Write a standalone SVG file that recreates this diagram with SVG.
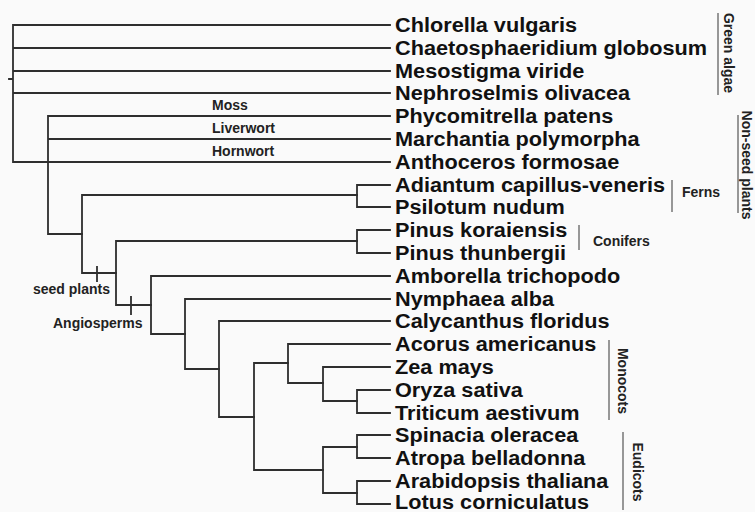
<svg xmlns="http://www.w3.org/2000/svg" width="755" height="512" viewBox="0 0 755 512">
<style>
.br{stroke:#2e2e2e;stroke-width:1.8;fill:none;stroke-linecap:square}
.bk{stroke:#555;stroke-width:1.2;fill:none}
.leaf{font-family:"Liberation Sans",Arial,sans-serif;font-weight:bold;font-size:20px;fill:#111}
.lab{font-family:"Liberation Sans",Arial,sans-serif;font-weight:bold;font-size:14px;fill:#222}
</style>
<rect width="755" height="512" fill="#fafafa"/>
<g id="connectors">
<path class="br" d="M13,25V162M9,79H13M13,25H390M13,48H390M13,71H390M13,93H390M13,162H390"/>
<path class="br" d="M48,116V234M48,116H390M48,139H390M48,234H82"/>
<path class="br" d="M82,195V273M82,195H357M82,273H116M97,267V281"/>
<path class="br" d="M357,185V207M357,185H390M357,207H390"/>
<path class="br" d="M116,241V305M116,241H357M116,305H151M131,297V314"/>
<path class="br" d="M357,230V253M357,230H390M357,253H390"/>
<path class="br" d="M151,276V334M151,276H390M151,334H185"/>
<path class="br" d="M185,299V369M185,299H390M185,369H219"/>
<path class="br" d="M219,321V417M219,321H390M219,417H254"/>
<path class="br" d="M254,363V470M254,363H288M254,470H323"/>
<path class="br" d="M288,344V383M288,344H390M288,383H323"/>
<path class="br" d="M323,367V401M323,367H390M323,401H357"/>
<path class="br" d="M357,390V413M357,390H390M357,413H390"/>
<path class="br" d="M323,447V493M323,447H357M323,493H357"/>
<path class="br" d="M357,435V458M357,435H390M357,458H390"/>
<path class="br" d="M357,481V504M357,481H390M357,504H390"/>
</g>
<g id="leaves" transform="translate(395,0) scale(1.085,1)">
<text id="n-chlorella" class="leaf" x="0" y="32.5">Chlorella vulgaris</text>
<text id="n-chaeto" class="leaf" x="0" y="55.5">Chaetosphaeridium globosum</text>
<text id="n-meso" class="leaf" x="0" y="78.5">Mesostigma viride</text>
<text id="n-nephro" class="leaf" x="0" y="100.5">Nephroselmis olivacea</text>
<text id="n-phyco" class="leaf" x="0" y="123.5">Phycomitrella patens</text>
<text id="n-march" class="leaf" x="0" y="146.5">Marchantia polymorpha</text>
<text id="n-antho" class="leaf" x="0" y="169.5">Anthoceros formosae</text>
<text id="n-adiantum" class="leaf" x="0" y="192.5">Adiantum capillus-veneris</text>
<text id="n-psilotum" class="leaf" x="0" y="214.5">Psilotum nudum</text>
<text id="n-pinusk" class="leaf" x="0" y="237.5">Pinus koraiensis</text>
<text id="n-pinust" class="leaf" x="0" y="260.5">Pinus thunbergii</text>
<text id="n-amborella" class="leaf" x="0" y="283.5">Amborella trichopodo</text>
<text id="n-nymphaea" class="leaf" x="0" y="306.5">Nymphaea alba</text>
<text id="n-calycanthus" class="leaf" x="0" y="328.5">Calycanthus floridus</text>
<text id="n-acorus" class="leaf" x="0" y="351.5">Acorus americanus</text>
<text id="n-zea" class="leaf" x="0" y="374.5">Zea mays</text>
<text id="n-oryza" class="leaf" x="0" y="397.5">Oryza sativa</text>
<text id="n-triticum" class="leaf" x="0" y="420.5">Triticum aestivum</text>
<text id="n-spinacia" class="leaf" x="0" y="442.5">Spinacia oleracea</text>
<text id="n-atropa" class="leaf" x="0" y="465.5">Atropa belladonna</text>
<text id="n-arabidopsis" class="leaf" x="0" y="488">Arabidopsis thaliana</text>
<text id="n-lotus" class="leaf" x="0" y="509.5">Lotus corniculatus</text>
</g>
<g id="clade-labels">
<text class="lab" x="212" y="110">Moss</text>
<text class="lab" x="212" y="133">Liverwort</text>
<text class="lab" x="212" y="156">Hornwort</text>
<text class="lab" x="33" y="294">seed plants</text>
<text class="lab" x="53" y="328">Angiosperms</text>
</g>
<g id="group-green-algae">
<line class="bk" x1="718" y1="13" x2="718" y2="95"/>
<text class="lab" transform="translate(724,53) rotate(90)" text-anchor="middle">Green algae</text>
</g>
<g id="group-nonseed">
<line class="bk" x1="738" y1="115" x2="738" y2="213"/>
<text class="lab" transform="translate(742,165) rotate(90)" text-anchor="middle">Non-seed plants</text>
</g>
<g id="group-ferns">
<line class="bk" x1="672" y1="180" x2="672" y2="212"/>
<text class="lab" x="682" y="197">Ferns</text>
</g>
<g id="group-conifers">
<line class="bk" x1="579" y1="225" x2="579" y2="250"/>
<text class="lab" x="593" y="246">Conifers</text>
</g>
<g id="group-monocots">
<line class="bk" x1="609" y1="340" x2="609" y2="420"/>
<text class="lab" transform="translate(618,381) rotate(90)" text-anchor="middle">Monocots</text>
</g>
<g id="group-eudicots">
<line class="bk" x1="623" y1="432" x2="623" y2="510"/>
<text class="lab" transform="translate(633,472) rotate(90)" text-anchor="middle">Eudicots</text>
</g>
</svg>
